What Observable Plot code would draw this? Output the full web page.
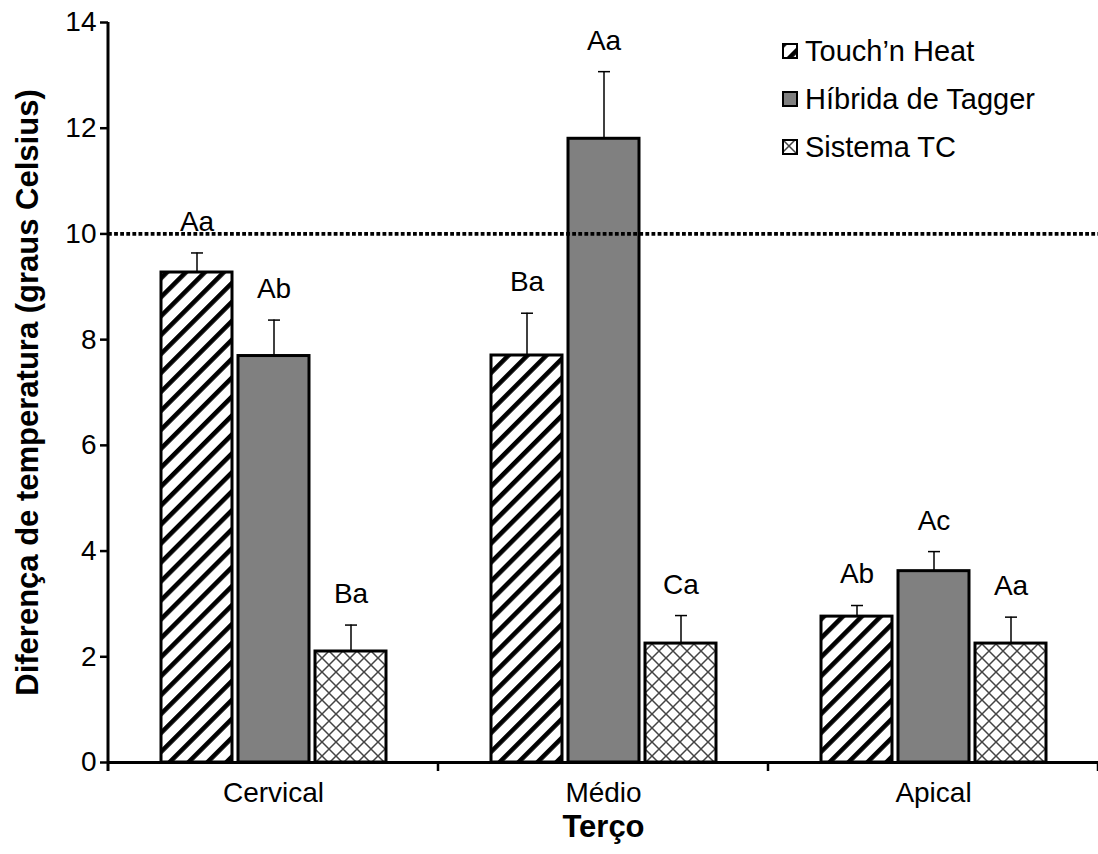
<!DOCTYPE html>
<html>
<head>
<meta charset="utf-8">
<script src="https://cdn.jsdelivr.net/npm/d3@7"></script>
<script src="https://cdn.jsdelivr.net/npm/@observablehq/plot@0.6"></script>
<style>
  body { margin: 0; background: #fff; }
  #wrap { position: relative; width: 1098px; height: 854px; font-family: "Liberation Sans", Arial, sans-serif; }
  #legend { position: absolute; left: 782px; top: 27px; font-size: 29px; color: #000; }
  .item { display: flex; align-items: center; height: 48px; white-space: nowrap; }
  .sw { width: 16px; height: 16px; margin-right: 7px; display: block; }
  g[aria-label="y-axis label"] text, g[aria-label="fx-axis label"] text { font-weight: bold; font-size: 31px; }
</style>
</head>
<body>
<div id="wrap">
  <div id="chart"></div>
  <div id="legend"></div>
</div>
<script>
// ---- data ----
const groups = ["Cervical", "Médio", "Apical"];
const series = ["Touch’n Heat", "Híbrida de Tagger", "Sistema TC"];
const touchValues = [9.27, 7.7, 2.76];
const touchErrors = [9.64, 8.5, 2.97];
const hibridaValues = [7.69, 11.8, 3.62];
const hibridaErrors = [8.37, 13.07, 3.99];
const sistemaValues = [2.1, 2.25, 2.25];
const sistemaErrors = [2.6, 2.78, 2.75];
const touchLetters = ["Aa", "Ba", "Ab"];
const hibridaLetters = ["Ab", "Aa", "Ac"];
const sistemaLetters = ["Ba", "Ca", "Aa"];
const yTicks = [0, 2, 4, 6, 8, 10, 12, 14];
const referenceLine = [10];
const fills = ["url(#stripes)", "#808080", "url(#cross)"];

const seriesData = [
  [touchValues, touchErrors, touchLetters],
  [hibridaValues, hibridaErrors, hibridaLetters],
  [sistemaValues, sistemaErrors, sistemaLetters]
];
const rows = [];
groups.forEach((g, gi) => {
  series.forEach((s, si) => {
    const [v, e, l] = seriesData[si];
    rows.push({group: g, series: s, value: v[gi], err: e[gi], letter: l[gi]});
  });
});

const capSymbol = {
  draw(ctx, size) {
    const r = Math.sqrt(size / Math.PI);
    ctx.moveTo(-r, 0);
    ctx.lineTo(r, 0);
  }
};

const chart = Plot.plot({
  width: 1098,
  height: 854,
  marginLeft: 108,
  marginRight: 0,
  marginTop: 22,
  marginBottom: 92,
  style: {fontFamily: "'Liberation Sans', Arial, sans-serif", fontSize: "28px", color: "black", background: "white", overflow: "visible"},
  fx: {domain: groups, padding: 0},
  x: {domain: series, paddingInner: 0.078, paddingOuter: 0.68, axis: null},
  y: {domain: [0, 14]},
  color: {domain: series, range: fills},
  marks: [
    Plot.barY(rows, {fx: "group", x: "series", y: "value", fill: "series", stroke: "black", strokeWidth: 3}),
    Plot.ruleX(rows, {fx: "group", x: "series", y1: "value", y2: "err", stroke: "black", strokeWidth: 1.5}),
    Plot.dot(rows, {fx: "group", x: "series", y: "err", symbol: capSymbol, r: 6, stroke: "black", strokeWidth: 1.5, fill: "none"}),
    Plot.text(rows, {fx: "group", x: "series", y: "err", text: "letter", dy: -31, fontSize: 28, fill: "black"}),
    Plot.ruleY(referenceLine, {stroke: "black", strokeWidth: 3.8, strokeDasharray: "3.8,2.3"}),
    Plot.ruleY([0], {stroke: "black", strokeWidth: 3}),
    Plot.axisY({ticks: yTicks, tickSize: 8, tickPadding: 4, strokeWidth: 2.5, tickFormat: d => String(d),
      label: "Diferença de temperatura (graus Celsius)", labelAnchor: "center", labelArrow: "none", labelOffset: 93}),
    Plot.axisFx({anchor: "bottom", tickSize: 0, tickPadding: 20, label: "Terço", labelAnchor: "center", labelArrow: "none", labelOffset: 74})
  ]
});

const svg = d3.select(chart);
const defs = svg.insert("defs", ":first-child");
const stripes = defs.append("pattern").attr("id", "stripes").attr("patternUnits", "userSpaceOnUse")
  .attr("width", 13.4).attr("height", 13.4).attr("patternTransform", "rotate(45)");
stripes.append("rect").attr("width", 13.4).attr("height", 13.4).attr("fill", "white");
stripes.append("rect").attr("width", 4.6).attr("height", 13.4).attr("fill", "black");
const cross = defs.append("pattern").attr("id", "cross").attr("patternUnits", "userSpaceOnUse")
  .attr("width", 14).attr("height", 14);
cross.append("rect").attr("width", 14).attr("height", 14).attr("fill", "white");
cross.append("path").attr("d", "M0,0L14,14M14,0L0,14").attr("stroke", "#444").attr("stroke-width", 1.5).attr("fill", "none");

// y-axis line and category boundary ticks from the library's scales
const fx = chart.scale("fx");
const ys = chart.scale("y");
const yBottom = Math.max(...ys.range), yTop = Math.min(...ys.range);
const xLeft = fx.apply(groups[0]);
svg.append("line").attr("x1", xLeft).attr("x2", xLeft).attr("y1", yTop).attr("y2", yBottom + 9)
  .attr("stroke", "black").attr("stroke-width", 3);
groups.forEach(g => {
  const xe = fx.apply(g) + fx.bandwidth;
  svg.append("line").attr("x1", xe).attr("x2", xe).attr("y1", yBottom).attr("y2", yBottom + 9)
    .attr("stroke", "black").attr("stroke-width", 2.5);
});

document.getElementById("chart").appendChild(chart);

// legend
const legend = d3.select("#legend");
series.forEach((s, i) => {
  const item = legend.append("div").attr("class", "item");
  const sw = item.append("svg").attr("class", "sw").attr("width", 16).attr("height", 16);
  sw.append("rect").attr("x", 1).attr("y", 1).attr("width", 14).attr("height", 14)
    .attr("fill", fills[i]).attr("stroke", "black").attr("stroke-width", 2);
  item.append("span").text(s);
});
</script>
</body>
</html>
